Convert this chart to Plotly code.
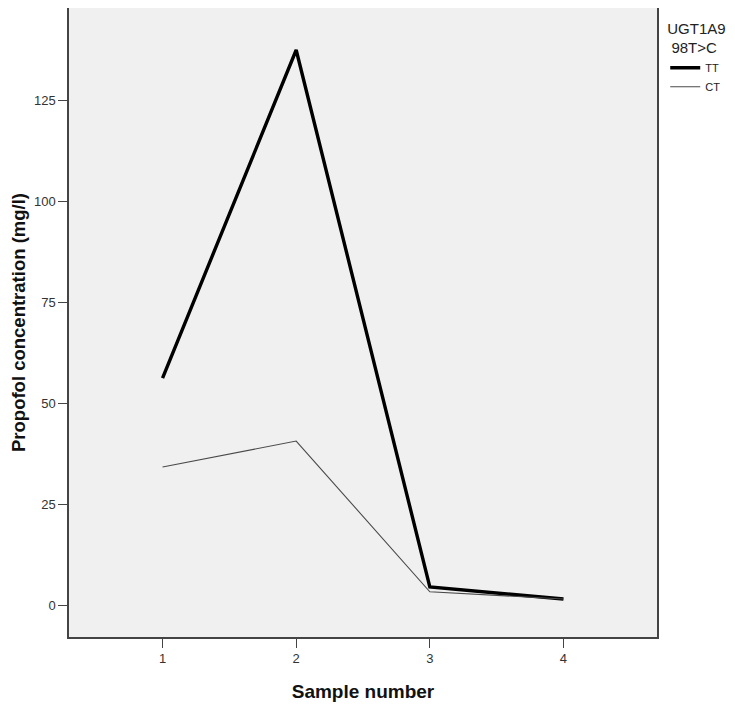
import plotly.graph_objects as go

# numero da amostra e concentracoes
amostras = [1, 2, 3, 4]
rotulos_x = ["1", "2", "3", "4"]
ticks_y = [0, 25, 50, 75, 100, 125]
tt_valores = [56.4, 137.6, 4.7, 1.7]
ct_valores = [34.4, 40.8, 3.5, 1.7]

fig = go.Figure()
fig.add_trace(go.Scatter(x=amostras, y=tt_valores, mode="lines", name="TT",
                         line=dict(color="#000000", width=3.4)))
fig.add_trace(go.Scatter(x=amostras, y=ct_valores, mode="lines", name="CT",
                         line=dict(color="#4a4a4a", width=1.1)))

# a pagina tem margem de 8px no body, por isso a figura e um pouco menor
fig.update_layout(
    width=727, height=697,
    margin=dict(l=61, r=78, t=0, b=68, autoexpand=False),
    paper_bgcolor="white",
    plot_bgcolor="#f0f0f0",
    font=dict(family="Liberation Sans, Arial, sans-serif", color="#222222", size=12),
    showlegend=True,
    legend=dict(
        title=dict(text="UGT1A9<br> 98T>C", font=dict(size=15, color="#222222")),
        x=1.014, xanchor="left", y=0.99, yanchor="top",
        bgcolor="rgba(0,0,0,0)", borderwidth=0,
        font=dict(size=11, color="#222222"), tracegroupgap=0, itemwidth=30,
    ),
)

fig.update_xaxes(
    range=[0.3, 4.7], tickvals=amostras, ticktext=rotulos_x,
    ticks="outside", ticklen=9, tickcolor="#444444", tickfont=dict(size=13, color="#333333"),
    showgrid=False, zeroline=False, automargin=False,
    showline=True, linecolor="#444444", linewidth=1.5, mirror=True,
    title=dict(text="<b>Sample number</b>", font=dict(size=19, color="#111111"), standoff=19),
)
fig.update_yaxes(
    range=[-7.7, 148], tickvals=ticks_y,
    ticks="outside", ticklen=9, tickcolor="#444444", tickfont=dict(size=13, color="#333333"),
    showgrid=False, zeroline=False, automargin=False,
    showline=True, linecolor="#444444", linewidth=1.5, mirror=True,
    title=dict(text="<b>Propofol concentration (mg/l)</b>", font=dict(size=18.5, color="#111111"), standoff=5),
)

fig.write_html("out.html")
